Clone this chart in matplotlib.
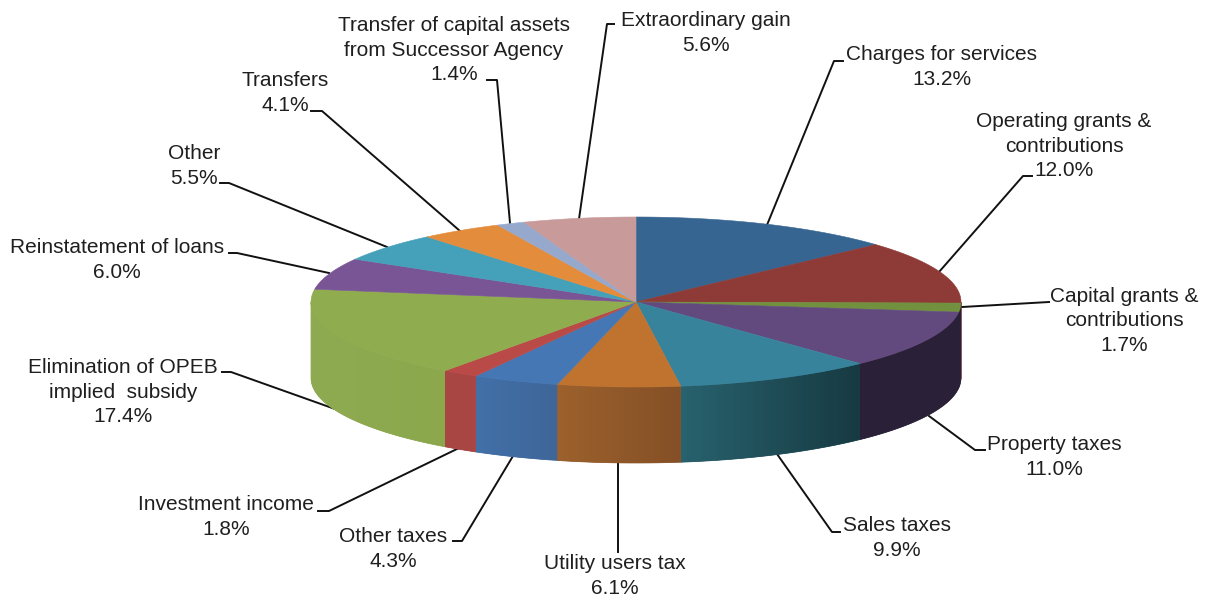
import numpy as np
import matplotlib
matplotlib.use("Agg")
import matplotlib.pyplot as plt
from matplotlib.patches import Polygon
from matplotlib.colors import to_rgb

plt.rcParams["font.family"] = ["Liberation Sans", "DejaVu Sans"]

names = ["Charges for services", "Operating grants &\ncontributions", "Capital grants &\ncontributions",
         "Property taxes", "Sales taxes", "Utility users tax", "Other taxes", "Investment income",
         "Elimination of OPEB\nimplied  subsidy", "Reinstatement of loans", "Other", "Transfers",
         "Transfer of capital assets\nfrom Successor Agency", "Extraordinary gain"]
values = [13.2, 12.0, 1.7, 11.0, 9.9, 6.1, 4.3, 1.8, 17.4, 6.0, 5.5, 4.1, 1.4, 5.6]

top_colors = ["#376592", "#8e3a36", "#72913f", "#634a7e", "#38839c", "#c0732f", "#4677b5",
              "#b94a47", "#8fac4f", "#7a5596", "#45a0b9", "#e38c3b", "#96a9cc", "#c89a9a"]
# side wall colours at the start and end of each slice (clockwise)
side_start = ["#376592", "#8e3a36", "#2a2138", "#2a2138", "#173a42", "#855027", "#3f6699",
              "#a84644", "#8ca84d", "#7a5596", "#45a0b9", "#e38c3b", "#96a9cc", "#c89a9a"]
side_end = ["#376592", "#8e3a36", "#2a2138", "#2a2138", "#28626e", "#9c612c", "#4270a8",
            "#a84644", "#8fab52", "#7a5596", "#45a0b9", "#e38c3b", "#96a9cc", "#c89a9a"]

# label centres
label_pos = [(942, 67), (1064, 146), (1124, 321), (1054, 457), (897, 538), (615, 576),
             (393, 549), (226, 517), (123, 392), (117, 260), (194, 166), (285, 93),
             (454, 50), (706, 33)]
leaders = [[(767, 225), (834, 61), (843, 61)],
           [(939, 272), (1023, 176), (1032, 176)],
           [(962, 307), (1049, 302)],
           [(929, 416), (975, 450), (985, 450)],
           [(777, 454), (832, 532), (840, 532)],
           [(618, 462), (618, 552)],
           [(513, 456), (462, 541), (453, 541)],
           [(459, 448), (329, 511), (318, 511)],
           [(335, 409), (231, 372), (222, 372)],
           [(329, 273), (237, 253), (229, 253)],
           [(387, 247), (229, 183), (220, 183)],
           [(460, 231), (322, 111), (311, 111)],
           [(510, 223), (497, 80), (487, 80)],
           [(579, 219), (607, 24), (614, 24)]]

cx, cy = 636, 302
rx, ry = 325, 85
depth = 76


def rim(theta_deg):
    t = np.radians(theta_deg)
    return cx + rx * np.sin(t), cy - ry * np.cos(t)


fig = plt.figure(figsize=(12.08, 5.98), dpi=100)
ax = fig.add_axes([0, 0, 1, 1])

edges = np.concatenate([[0], np.cumsum(values)]) / sum(values) * 360

# side wall, a horizontal gradient clipped to each slice's strip
for i in range(len(values)):
    a0, a1 = max(edges[i], 90), min(edges[i + 1], 270)
    if a1 <= a0:
        continue
    ts = np.linspace(a0, a1, 80)
    xs, ys = rim(ts)
    pts = list(zip(xs, ys)) + list(zip(xs[::-1], ys[::-1] + depth))
    c_left, c_right = np.array(to_rgb(side_end[i])), np.array(to_rgb(side_start[i]))
    f = np.linspace(0, 1, 64)[:, None]
    grad = (c_left + (c_right - c_left) * f)[None, :, :]
    under = Polygon(pts, closed=True, fc=grad[0, 32], ec=grad[0, 32], lw=0.5, zorder=2)
    ax.add_patch(under)
    im = ax.imshow(grad, extent=[xs.min(), xs.max(), ys.max() + depth, ys.min()],
                   aspect="auto", interpolation="nearest", zorder=2.1)
    im.set_clip_path(Polygon(pts, closed=True, transform=ax.transData))

# top face
for i in range(len(values)):
    ts = np.linspace(edges[i], edges[i + 1], 80)
    xs, ys = rim(ts)
    pts = [(cx, cy)] + list(zip(xs, ys))
    ax.add_patch(Polygon(pts, closed=True, fc=top_colors[i], ec=top_colors[i], lw=0.4, zorder=3))

for pts in leaders:
    xs, ys = zip(*pts)
    ax.plot(xs, ys, color="#111111", lw=1.4, solid_joinstyle="round", zorder=1)

for name, val, (lx, ly) in zip(names, values, label_pos):
    ax.text(lx, ly, f"{name}\n{val:.1f}%", ha="center", va="center", fontsize=15,
            color="#1f1f1f", linespacing=1.38, zorder=5)

ax.set_xlim(0, 1208)
ax.set_ylim(598, 0)
ax.axis("off")

fig.savefig("out.png", dpi=100, facecolor="white")
